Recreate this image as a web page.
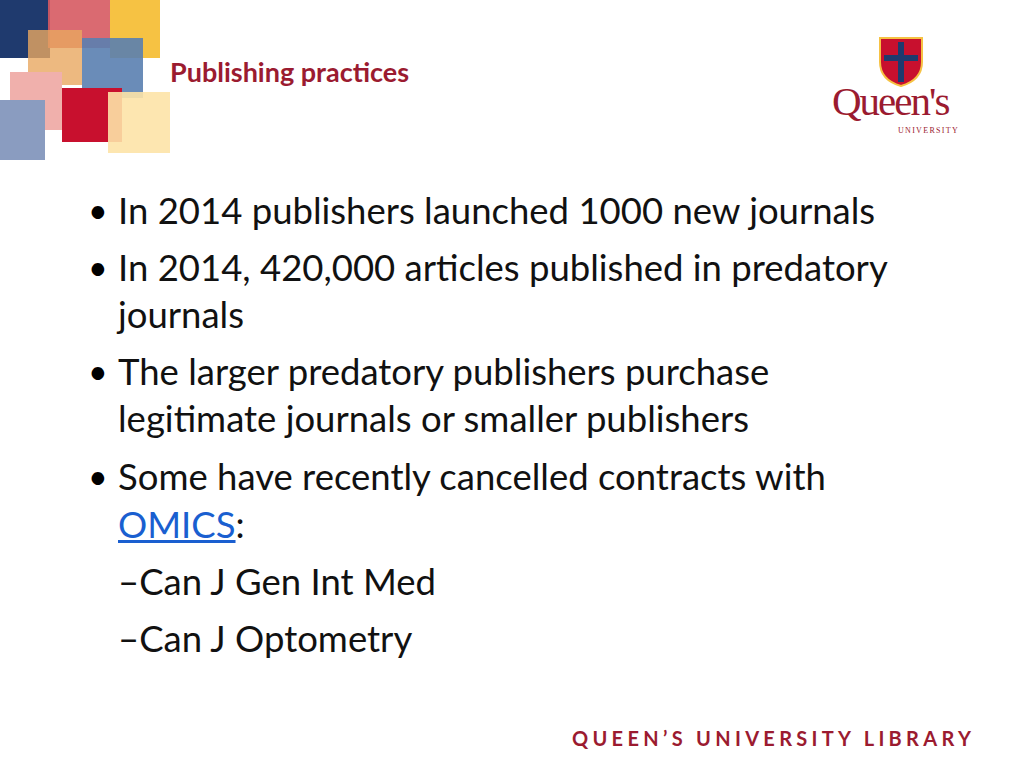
<!DOCTYPE html>
<html><head><meta charset="utf-8">
<script src="https://cdn.jsdelivr.net/npm/chart.js@4"></script>
<style>
body{margin:0;width:1024px;height:768px;background:#fff;position:relative;overflow:hidden;font-family:Lato,"Open Sans",sans-serif}
.sq{position:absolute}
.t{position:absolute;white-space:nowrap}
#title{left:170px;top:55px;font-size:27px;font-weight:bold;color:#9b1b30}
.b{position:absolute;left:118px;font-size:36.5px;color:#111;line-height:1;white-space:nowrap}
.d{position:absolute;left:88px;font-size:34px;line-height:1}
a{color:#1a5fd0}
#foot{left:572px;top:726px;font-size:20px;font-weight:bold;color:#9b1b30;letter-spacing:4.3px}
</style></head><body>
<div class="sq" style="left:0;top:0;width:50px;height:58px;background:#1f3a6e"></div>
<div class="sq" style="left:48px;top:0;width:62px;height:48px;background:#d65a62;opacity:.9"></div>
<div class="sq" style="left:110px;top:0;width:50px;height:58px;background:#f6c243"></div>
<div class="sq" style="left:28px;top:30px;width:54px;height:55px;background:#e8a860;opacity:.8"></div>
<div class="sq" style="left:82px;top:38px;width:61px;height:60px;background:#5a7fb0;opacity:.9"></div>
<div class="sq" style="left:10px;top:72px;width:52px;height:58px;background:#f0b0ac"></div>
<div class="sq" style="left:62px;top:88px;width:60px;height:54px;background:#c8102e"></div>
<div class="sq" style="left:108px;top:92px;width:62px;height:61px;background:#fde3a7;opacity:.9"></div>
<div class="sq" style="left:0;top:100px;width:45px;height:60px;background:#8a9cc0"></div>
<div class="t" id="title">Publishing practices</div>
<svg style="position:absolute;left:878px;top:36px" width="46" height="52"><path d="M2 2 H44 V26 Q44 44 23 50 Q2 44 2 26Z" fill="#c8102e" stroke="#f6c243" stroke-width="2"/><path d="M23 6 V46 M6 22 H40" stroke="#1f3a6e" stroke-width="6"/></svg>
<div class="t" style="left:832px;top:84px;height:34px;font-family:'Liberation Serif',serif;font-size:41px;line-height:34px;color:#9b1b30;letter-spacing:-2px">Queen's</div>
<div class="t" style="left:898px;top:127px;font-family:'Liberation Serif',serif;font-size:8px;line-height:1;color:#9b1b30;letter-spacing:1.3px">UNIVERSITY</div>
<div class="d" style="top:193px">•</div><div class="b" style="top:192px">In 2014 publishers launched 1000 new journals</div>
<div class="d" style="top:250px">•</div><div class="b" style="top:249px">In 2014, 420,000 articles published in predatory</div>
<div class="b" style="top:296px">journals</div>
<div class="d" style="top:354px">•</div><div class="b" style="top:353px">The larger predatory publishers purchase</div>
<div class="b" style="top:400px">legitimate journals or smaller publishers</div>
<div class="d" style="top:459px">•</div><div class="b" style="top:458px">Some have recently cancelled contracts with</div>
<div class="b" style="top:506px"><a href="#">OMICS</a>:</div>
<div class="b" style="top:563px">–Can J Gen Int Med</div>
<div class="b" style="top:620px">–Can J Optometry</div>
<div class="t" id="foot">QUEEN’S UNIVERSITY LIBRARY</div>
</body></html>
